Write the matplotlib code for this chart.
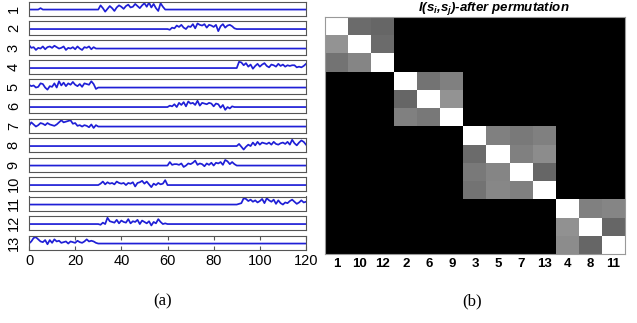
import numpy as np
import matplotlib
matplotlib.use("Agg")
import matplotlib.pyplot as plt

plt.rcParams['font.family'] = ['Liberation Sans', 'DejaVu Sans']
plt.rcParams['mathtext.fontset'] = 'custom'
plt.rcParams['mathtext.it'] = 'Liberation Sans:bold:italic'
plt.rcParams['mathtext.rm'] = 'Liberation Sans:bold:italic'

# ---------------- data ----------------
n_samples = 121
signal_names = ["1", "2", "3", "4", "5", "6", "7", "8", "9", "10", "11", "12", "13"]
window_starts = [30, 60, 0, 90, 0, 60, 0, 90, 60, 30, 90, 30, 0]

s1 = [0, 0.6, 0.2, -0.3, 0.1, 0.5, 0.2, -0.2, 0.3, 0.6, 0.4, 0.1, 0.5, 0.7, 0.3, 0.4,
      0.8, 0.5, 0.2, 0.6, 0.9, 0.4, 1.0, 0.3, 0.8, 0.2, -0.2, 0.9, 0.4, 0.0, 0]
s2 = [0, -0.1, 0.2, 0.1, 0.5, 0.3, 0.6, 0.2, 0.0, 0.4, 0.3, 0.7, 0.1, 0.8, 0.6, 0.5,
      0.7, 0.2, 0.6, 0.5, 0.3, 0.6, -0.3, 0.4, 0.7, 0.2, 0.5, 0.6, 0.4, 0.1, 0]
s3 = [0.5, 0.1, 0.2, -0.2, 0.1, 0.0, 0.3, -0.1, 0.2, 0.3, 0.1, 0.4, 0.2, 0.0, 0.1, 0.3,
      -0.2, 0.1, 0.0, 0.2, -0.1, 0.3, 0.0, -0.2, 0.2, 0.1, 0.3, -0.1, 0.2, 0.0, 0]
s4 = [0, 0.9, 0.8, 0.4, 0.7, 0.2, 0.5, -0.1, 0.3, 0.6, 0.2, 0.5, 0.7, 0.3, 0.1, 0.5,
      0.4, 0.2, 0.6, 0.3, 0.5, 0.2, 0.4, 0.3, 0.4, 0.4, 0.1, 0.2, 0.1, 0.3, 0.6]
s5 = [0.4, 0.2, 0.3, 0.0, 0.1, 0.6, 0.5, 0.0, -0.3, 0.2, 0.1, 0.6, 0.0, 0.9, 0.3, 0.7,
      0.2, 0.6, 0.4, 0.8, 0.4, 0.2, 0.5, 0.1, 0.6, 0.5, 0.4, 0.9, 0.5, -0.2, 0]
s6 = [0, 0.2, 0.1, 0.4, 0.0, 0.6, 0.3, 0.7, 0.1, 0.8, 0.5, 0.6, 0.3, 0.9, 0.2, 0.6,
      0.5, 0.4, 0.6, 0.5, 0.1, 0.5, 0.4, -0.1, 0.3, -0.4, 0.0, -0.2, 0.1, 0.0, 0]
s7 = [0.1, 0.6, 0.3, 0.0, 0.2, 0.5, 0.4, 0.2, 0.5, 0.3, 0.2, 0.1, 0.3, 0.6, 0.9, 0.6,
      0.7, 0.8, 0.9, 0.4, 0.5, 0.1, 0.2, 0.0, 0.2, 0.1, -0.1, 0.3, -0.2, 0.2, 0]
s8 = [0, 0.3, -0.1, -0.5, -0.1, 0.2, 0.0, 0.5, 0.1, 0.6, 0.2, 0.5, 0.4, 0.3, 0.5, 0.2,
      0.6, 0.3, 0.2, 0.4, 0.5, 0.3, 0.6, 0.2, 0.9, 0.4, 0.1, 0.5, 0.8, 0.6, 0.2]
s9 = [0, 0.5, 0.1, 0.2, 0.2, 0.1, 0.3, -0.2, 0.0, 0.3, 0.2, 0.4, 0.7, 0.1, 0.3, 0.2,
      -0.1, 0.3, 0.1, 0.4, 0.0, 0.4, 0.3, 0.5, 0.1, 0.8, 0.6, 0.2, 0.5, 0.2, 0]
s10 = [0, 0.2, 0.5, 0.1, 0.4, 0.2, 0.3, 0.1, 0.5, 0.3, 0.2, 0.3, 0.0, 0.3, 0.2, 0.4,
       -0.2, 0.3, 0.4, 0.6, 0.2, 0.5, 0.1, -0.3, 0.2, 0.0, 0.3, 0.1, 0.2, 0.7, 0]
s11 = [0, 0.1, 0.2, 0.9, 0.8, 0.5, 0.7, 0.4, 0.6, 0.3, 0.5, 0.8, 0.2, 0.9, 0.6, 0.4,
       0.7, 0.1, 0.6, 0.2, 0.0, 0.3, 0.2, 0.5, 0.7, 0.4, 0.1, 0.3, 0.6, 0.3, 0.4]
s12 = [0, -0.1, 0.2, 0.0, 0.9, 0.4, 0.3, 0.2, 0.6, 0.1, 0.5, 0.3, 0.2, 0.7, 0.1, 0.4,
       0.3, 0.6, 0.0, 0.5, 0.3, 0.1, 0.4, -0.2, 0.3, 0.1, 0.7, 0.3, 0.0, 0.1, 0]
s13 = [0.0, 0.3, 0.8, 0.9, 0.6, 0.3, 0.2, 0.5, -0.1, 0.5, 0.1, 0.6, 0.3, 0.4, 0.1, 0.2,
       0.3, 0.0, 0.3, 0.2, 0.1, 0.4, 0.2, 0.1, 0.3, 0.6, 0.3, 0.4, 0.3, 0.1, 0]
windows = [s1, s2, s3, s4, s5, s6, s7, s8, s9, s10, s11, s12, s13]
# small isolated blip in signal 1
blip_index = 5
blip_value = 0.2

perm_labels = ["1", "10", "12", "2", "6", "9", "3", "5", "7", "13", "4", "8", "11"]
similarity = [
    [1.00, 0.42, 0.40, 0, 0, 0, 0, 0, 0, 0, 0, 0, 0],
    [0.58, 1.00, 0.42, 0, 0, 0, 0, 0, 0, 0, 0, 0, 0],
    [0.45, 0.52, 1.00, 0, 0, 0, 0, 0, 0, 0, 0, 0, 0],
    [0, 0, 0, 1.00, 0.45, 0.50, 0, 0, 0, 0, 0, 0, 0],
    [0, 0, 0, 0.40, 1.00, 0.58, 0, 0, 0, 0, 0, 0, 0],
    [0, 0, 0, 0.50, 0.47, 1.00, 0, 0, 0, 0, 0, 0, 0],
    [0, 0, 0, 0, 0, 0, 1.00, 0.50, 0.48, 0.50, 0, 0, 0],
    [0, 0, 0, 0, 0, 0, 0.42, 1.00, 0.50, 0.55, 0, 0, 0],
    [0, 0, 0, 0, 0, 0, 0.48, 0.52, 1.00, 0.40, 0, 0, 0],
    [0, 0, 0, 0, 0, 0, 0.45, 0.53, 0.50, 1.00, 0, 0, 0],
    [0, 0, 0, 0, 0, 0, 0, 0, 0, 0, 1.00, 0.50, 0.52],
    [0, 0, 0, 0, 0, 0, 0, 0, 0, 0, 0.57, 1.00, 0.40],
    [0, 0, 0, 0, 0, 0, 0, 0, 0, 0, 0.55, 0.40, 1.00],
]
x_ticks = [0, 20, 40, 60, 80, 100, 120]

# ---------------- figure ----------------
W, H = 637, 323
fig = plt.figure(figsize=(W / 100, H / 100), dpi=100)

def fx(px):
    return px / W

def fy(py):
    return 1 - py / H

left_px, right_px = 29, 306
pitch, box_h, top0 = 19.5, 14.0, 1.5
frame_col = '#555555'
t = np.arange(n_samples)

for i, name in enumerate(signal_names):
    top = top0 + i * pitch
    ax = fig.add_axes([fx(left_px), fy(top + box_h), fx(right_px - left_px), box_h / H])
    y = np.zeros(n_samples)
    w = windows[i]
    st = window_starts[i]
    y[st:st + len(w)] = w
    if i == 0:
        y[blip_index] = blip_value
    ax.plot(t, y, color='#1f1fd6', lw=1.25)
    ax.set_xlim(0, 120)
    ax.set_ylim(-0.85, 1.15)
    ax.set_yticks([])
    for sp in ax.spines.values():
        sp.set_color(frame_col)
        sp.set_linewidth(0.8)
    ax.set_ylabel(name, rotation=90, fontsize=10.5, va='center')
    ax.yaxis.set_label_coords(-0.055, 0.5)
    if i == len(signal_names) - 1:
        ax.set_xticks(x_ticks)
        ax.tick_params(axis='x', direction='in', length=3, labelsize=10.5,
                       color=frame_col, top=True, pad=3)
    else:
        ax.set_xticks([])

# heatmap
hx0, hx1, hy0, hy1 = 325, 625, 17, 254
axh = fig.add_axes([fx(hx0), fy(hy1), fx(hx1 - hx0), (hy1 - hy0) / H])
axh.imshow(np.array(similarity), cmap='gray', vmin=0, vmax=1, aspect='auto',
           interpolation='nearest')
axh.set_xticks(range(len(perm_labels)))
axh.set_xticklabels(perm_labels, fontweight='bold', fontsize=9.5)
axh.set_yticks([])
axh.tick_params(axis='x', length=0, pad=3)
for sp in axh.spines.values():
    sp.set_color('#999999')
    sp.set_linewidth(0.8)

fig.text(fx(494), fy(8.5), r'I($s_i$,$s_j$)-after permutation', ha='center', va='center',
         fontsize=9.5, fontweight='bold', style='italic')

fig.text(fx(163), fy(301), '(a)', ha='center', va='center', fontsize=12,
         family='Liberation Serif')
fig.text(fx(472), fy(301), '(b)', ha='center', va='center', fontsize=12,
         family='Liberation Serif')

fig.savefig('out.png', dpi=100)
